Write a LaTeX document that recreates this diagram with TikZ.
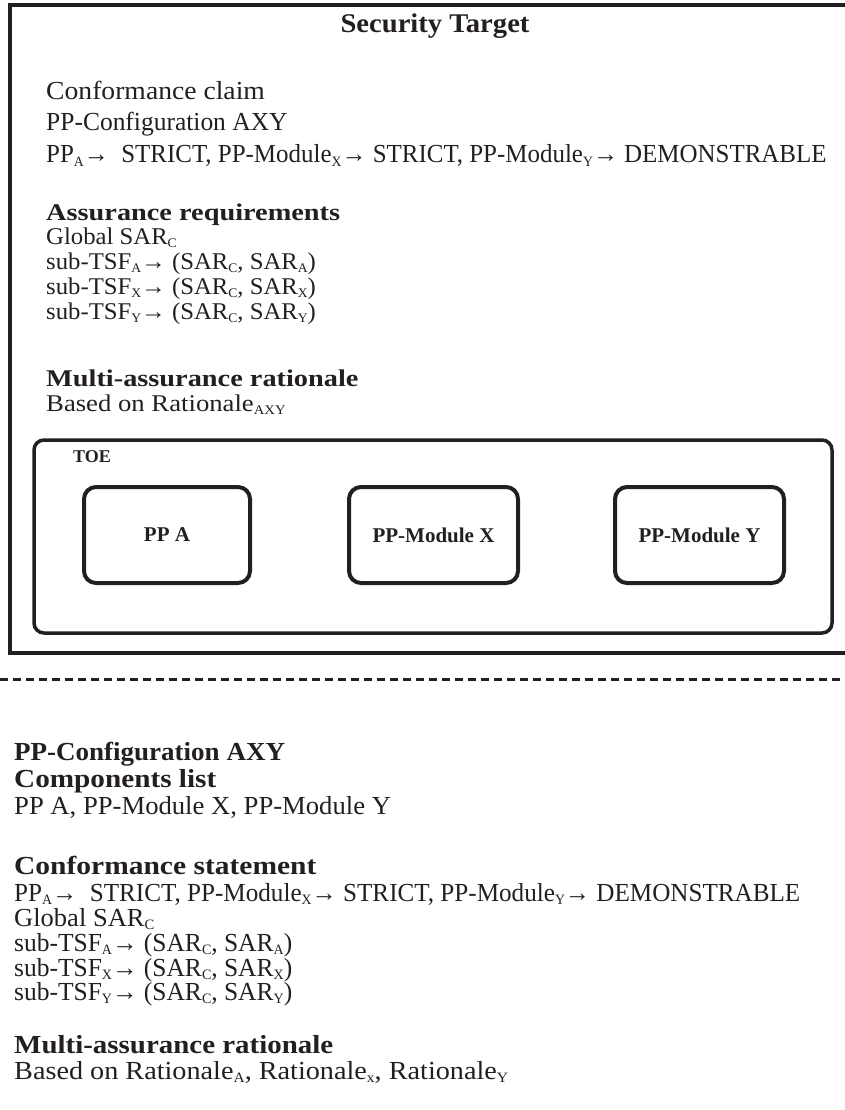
\documentclass[tikz,border=0pt]{standalone}
\usepackage{fontspec}
\setmainfont{Liberation Serif}
\newfontfamily\topfont{Liberation Serif}
\newfontfamily\topbold[FakeStretch=1.06]{Liberation Serif}
\newfontfamily\midfont[FakeStretch=1.03]{Liberation Serif}
\newfontfamily\midbold[FakeStretch=1.18]{Liberation Serif}
\usepackage{graphicx}
\definecolor{ink}{HTML}{231F20}
\newcommand\sbs[1]{\raisebox{-0.3ex}{\scalebox{0.55}{#1}}}
\newcommand\hs[2]{\scalebox{#1}[1]{#2}}
\begin{document}
\begin{tikzpicture}[x=1pt,y=-1pt,
  txt/.style={anchor=base west,inner sep=0pt,text=ink},
  topreg/.style={txt,font=\topfont\fontsize{26}{30}\selectfont},
  topbf/.style={txt,font=\topbold\bfseries\fontsize{26}{30}\selectfont},
  midreg/.style={txt,font=\midfont\fontsize{24}{28}\selectfont},
  midbf/.style={txt,font=\midbold\bfseries\fontsize{24}{28}\selectfont},
  ppbox/.style={draw=ink,line width=4pt,rounded corners=12pt,inner sep=0pt,
    minimum height=96pt,text=ink,font=\topfont\bfseries\fontsize{21}{24}\selectfont},
  frame/.style={draw=ink,line width=4pt}]
\useasboundingbox (0,0) rectangle (845,1110);
% outer Security Target frame (right side beyond page)
\draw[frame] (860,5) -- (10,5) -- (10,653) -- (860,653);
\node[txt,anchor=base,font=\topbold\bfseries\fontsize{27}{30}\selectfont] (st) at (435,33) {Security Target};
\node[topreg] (cc) at (46,100) {\hs{1.063}{Conformance claim}};
\node[topreg] (pc) at (46,131) {\hs{0.98}{PP-Configuration AXY}};
\node[topreg] (cl) at (46,163) {\hs{0.96}{PP\sbs{A}→\ \ STRICT, PP-Module\sbs{X}→ STRICT, PP-Module\sbs{Y}→ DEMONSTRABLE}};
\node[midbf] (ar) at (46,220) {Assurance requirements};
\node[midreg] (gs) at (46,244) {Global SAR\sbs{C}};
\node[midreg] (ta) at (46,269) {sub-TSF\sbs{A}→ (SAR\sbs{C}, SAR\sbs{A})};
\node[midreg] (tx) at (46,294) {sub-TSF\sbs{X}→ (SAR\sbs{C}, SAR\sbs{X})};
\node[midreg] (ty) at (46,319) {sub-TSF\sbs{Y}→ (SAR\sbs{C}, SAR\sbs{Y})};
\node[midbf] (mr) at (46,386) {Multi-assurance rationale};
\node[midreg] (br) at (46,411) {\hs{1.08}{Based on Rationale\sbs{AXY}}};
% TOE
\draw[draw=ink,line width=3.5pt,rounded corners=10pt] (34,440) rectangle (832,633);
\node[txt,font=\topfont\bfseries\fontsize{18}{20}\selectfont] (toe) at (73,462) {TOE};
\node[ppbox,minimum width=166pt] (ppa) at (167,535) {PP A};
\node[ppbox,minimum width=169pt] (ppx) at (433.5,535) {PP-Module X};
\node[ppbox,minimum width=169pt] (ppy) at (699.5,535) {PP-Module Y};
% separator
\coordinate (dl) at (0,679);
\coordinate (dr) at (845,679);
\draw[draw=ink,line width=3pt,dash pattern=on 8pt off 5pt] (dl) -- (dr);
% lower section
\node[topbf] (bpc) at (14,760) {\hs{0.98}{PP-Configuration AXY}};
\node[topbf] (bcl) at (14,787) {\hs{1.06}{Components list}};
\node[topreg] (bls) at (14,814) {\hs{1.025}{PP A, PP-Module X, PP-Module Y}};
\node[topbf] (bcs) at (14,874) {\hs{1.07}{Conformance statement}};
\node[topreg] (bst) at (14,901) {\hs{0.967}{PP\sbs{A}→\ \ STRICT, PP-Module\sbs{X}→ STRICT, PP-Module\sbs{Y}→ DEMONSTRABLE}};
\node[topreg] (bgs) at (14,926) {\hs{1.02}{Global SAR\sbs{C}}};
\node[topreg] (bta) at (14,951) {\hs{0.98}{sub-TSF\sbs{A}→ (SAR\sbs{C}, SAR\sbs{A})}};
\node[topreg] (btx) at (14,976) {\hs{0.98}{sub-TSF\sbs{X}→ (SAR\sbs{C}, SAR\sbs{X})}};
\node[topreg] (bty) at (14,1000) {\hs{0.98}{sub-TSF\sbs{Y}→ (SAR\sbs{C}, SAR\sbs{Y})}};
\node[topbf] (bmr) at (14,1053) {\hs{1.05}{Multi-assurance rationale}};
\node[topreg] (bbr) at (14,1079) {\hs{1.085}{Based on Rationale\sbs{A}, Rationale\sbs{x}, Rationale\sbs{Y}}};
\end{tikzpicture}
\end{document}
